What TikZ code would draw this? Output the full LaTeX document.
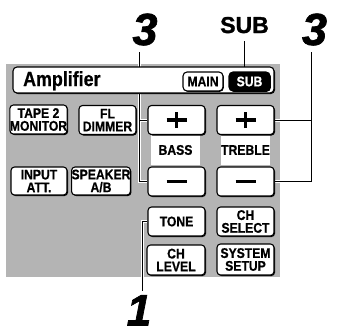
\documentclass[tikz,border=0pt]{standalone}
\usepackage{fontspec}
\setmainfont{Liberation Sans}
\newfontfamily\cnd{Liberation Sans}[FakeStretch=0.87, FakeBold=0.6]
\newfontfamily\heavy{Liberation Sans}[FakeBold=1.5]
\usetikzlibrary{shadows,backgrounds}
\definecolor{panelgray}{RGB}{180,180,180}
\tikzset{
  btn/.style={draw=black, line width=1.1pt, fill=white, rounded corners=3.5pt,
    minimum width=57pt, minimum height=29pt, inner sep=0pt, align=center,
    font=\cnd\bfseries\fontsize{14}{12.8}\selectfont,
    drop shadow={shadow xshift=1pt, shadow yshift=-1pt, fill=black, opacity=1}},
  smallbtn/.style={draw=black, line width=1.1pt, fill=white, rounded corners=4pt,
    minimum height=19pt, inner sep=0pt, align=center,
    font=\cnd\bfseries\fontsize{14}{14}\selectfont,
    drop shadow={shadow xshift=0.8pt, shadow yshift=-0.8pt, fill=black, opacity=1}},
  lbl/.style={fill=white, minimum width=49pt, minimum height=30pt, inner sep=0pt,
    font=\cnd\bfseries\fontsize{14}{12.8}\selectfont},
  bignum/.style={inner sep=0pt, font=\heavy\bfseries\itshape\fontsize{45}{45}\selectfont},
  conn/.style={line width=0.9pt, preaction={draw=white, line width=3pt}},
  sign/.style={line width=3.6pt},
}
\begin{document}
\begin{tikzpicture}[x=1pt, y=-1pt]
\useasboundingbox (0,0) rectangle (339,332);

% title bar
\node[draw=black, line width=1.1pt, fill=white, rounded corners=4pt,
      minimum width=261pt, minimum height=26pt, inner sep=0pt,
      drop shadow={shadow xshift=1pt, shadow yshift=-1pt, fill=black, opacity=1}]
      (title) at (143.5,80) {};
\node[anchor=base west, inner sep=0pt, font=\cnd\bfseries\fontsize{20.5}{20.5}\selectfont]
      (amp) at (23,86) {Amplifier};
\node[smallbtn, minimum width=40pt] (main) at (203,81.5) {MAIN};
\node[smallbtn, minimum width=41pt, fill=black, text=white] (subbtn) at (249.5,81.5) {SUB};

% labels between buttons
\node[lbl] (basslbl) at (175.5,150) {BASS};
\node[lbl] (treblelbl) at (245.5,150) {TREBLE};

% buttons
\node[btn] (tape) at (38.5,119.5) {TAPE 2\\MONITOR};
\node[btn] (fl) at (107.5,120) {FL\\DIMMER};
\node[btn] (bplus) at (176.5,120) {};
\node[btn] (tplus) at (245.5,120) {};
\node[btn, minimum width=56pt, minimum height=28pt] (input) at (39,181) {INPUT\\ATT.};
\node[btn, minimum width=56pt, minimum height=28pt] (spk) at (101,181) {SPEAKER\\A/B};
\node[btn] (bminus) at (176.5,181.5) {};
\node[btn] (tminus) at (245.5,181.5) {};
\node[btn] (tone) at (176.5,221.5) {TONE};
\node[btn] (chsel) at (245.5,221.5) {CH\\SELECT};
\node[btn, minimum width=58pt, minimum height=30pt] (chlev) at (176,260) {CH\\LEVEL};
\node[btn, minimum height=31pt] (sys) at (245.5,259.5) {SYSTEM\\SETUP};

% plus / minus signs
\draw[sign] ([xshift=-10pt]bplus.center) -- ([xshift=10pt]bplus.center);
\draw[sign] ([yshift=-8pt]bplus.center) -- ([yshift=8pt]bplus.center);
\draw[sign] ([xshift=-10pt]tplus.center) -- ([xshift=10pt]tplus.center);
\draw[sign] ([yshift=-8pt]tplus.center) -- ([yshift=8pt]tplus.center);
\draw[sign] ([xshift=-10pt]bminus.center) -- ([xshift=10pt]bminus.center);
\draw[sign] ([xshift=-10pt]tminus.center) -- ([xshift=10pt]tminus.center);

% callout labels
\node[bignum, anchor=base] (three1) at (145,45) {3};
\node[bignum, anchor=base] (three2) at (314.5,45) {3};
\node[bignum, anchor=base, font=\heavy\bfseries\itshape\fontsize{44}{44}\selectfont] (one) at (139,325.5) {1};
\node[anchor=base, inner sep=0pt, font=\heavy\bfseries\fontsize{23}{23}\selectfont] (sublbl) at (244.5,33) {SUB};

\coordinate (l3top) at (139.5,52);
\coordinate (r3top) at (311,52);
\coordinate (onetop) at (142,291);

\begin{scope}[on background layer]
  \fill[panelgray] (6,64) rectangle (280,277);
  \draw[conn] (l3top) -- (l3top |- bminus.west) -- (bminus.west);
  \draw[conn] (l3top |- bplus.west) -- (bplus.west);
  \draw[conn] (r3top) -- (r3top |- tminus.east) -- (tminus.east);
  \draw[conn] (r3top |- tplus.east) -- (tplus.east);
  \draw[conn] (onetop) -- (onetop |- tone.west) -- (tone.west);
  \draw[line width=0.9pt] ([yshift=-8pt]sublbl.base) -- ([yshift=-8pt]sublbl.base |- subbtn.north);
\end{scope}
\end{tikzpicture}
\end{document}
